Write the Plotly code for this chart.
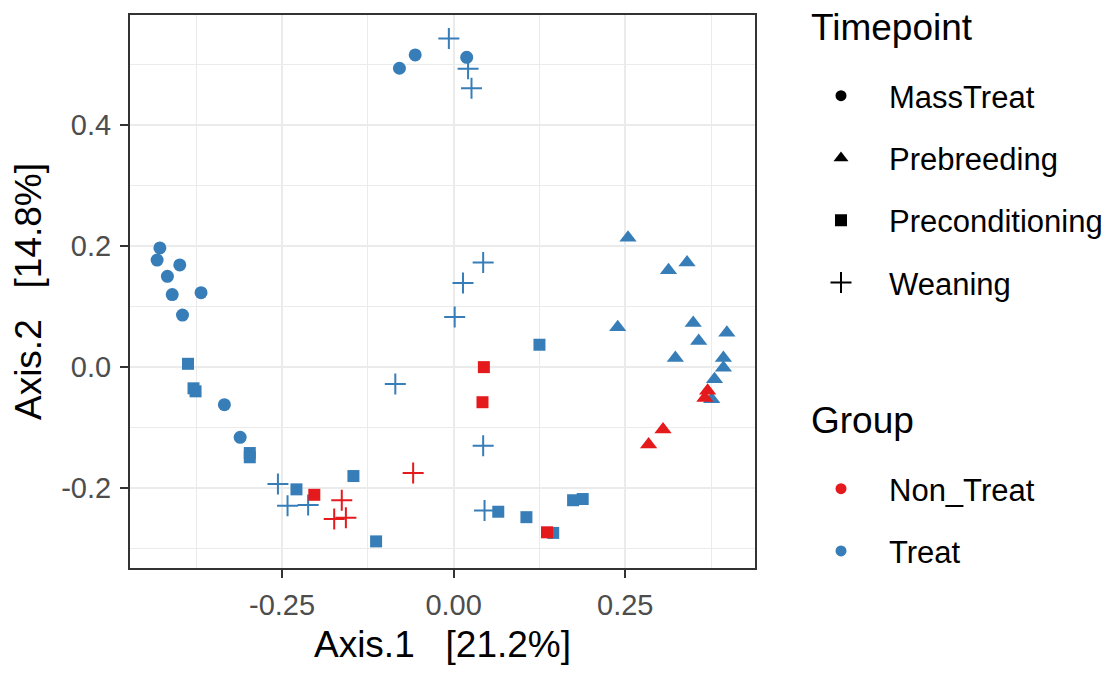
import plotly.graph_objects as go

# ---- data ----
mass_treat_x = [-0.079, -0.056, 0.019, -0.428, -0.432, -0.399, -0.417, -0.410, -0.368, -0.395, -0.334, -0.311]
mass_treat_y = [0.493, 0.515, 0.511, 0.196, 0.176, 0.168, 0.149, 0.119, 0.122, 0.085, -0.063, -0.117]

preb_treat_x = [0.254, 0.313, 0.340, 0.239, 0.349, 0.357, 0.323, 0.398, 0.393, 0.393, 0.380, 0.376]
preb_treat_y = [0.213, 0.159, 0.172, 0.065, 0.072, 0.042, 0.014, 0.056, 0.014, -0.002, -0.021, -0.054]
preb_non_x = [0.370, 0.366, 0.305, 0.284]
preb_non_y = [-0.040, -0.052, -0.104, -0.129]

precond_treat_x = [-0.387, -0.379, -0.376, -0.297, -0.297, -0.229, -0.146, -0.113, 0.125, 0.065, 0.106, 0.145, 0.174, 0.188]
precond_treat_y = [0.0045, -0.036, -0.041, -0.143, -0.150, -0.203, -0.181, -0.289, 0.036, -0.240, -0.249, -0.275, -0.221, -0.219]
precond_non_x = [-0.203, 0.044, 0.042, 0.136]
precond_non_y = [-0.212, -0.001, -0.059, -0.274]

wean_treat_x = [-0.007, 0.021, 0.026, 0.043, 0.0136, 0.0015, -0.085, 0.043, 0.045, -0.256, -0.242, -0.212]
wean_treat_y = [0.542, 0.492, 0.460, 0.172, 0.138, 0.082, -0.029, -0.131, -0.238, -0.194, -0.230, -0.229]
wean_non_x = [-0.163, -0.174, -0.157, -0.059]
wean_non_y = [-0.221, -0.252, -0.250, -0.176]

timepoints = ["MassTreat", "Prebreeding", "Preconditioning", "Weaning"]
groups = ["Non_Treat", "Treat"]

x_tickvals = [-0.25, 0.0, 0.25]
x_ticktext = ["-0.25", "0.00", "0.25"]
y_tickvals = [0.4, 0.2, 0.0, -0.2]
y_ticktext = ["0.4", "0.2", "0.0", "-0.2"]
x_minor = [-0.375, -0.125, 0.125, 0.375]
y_minor = [0.5, 0.3, 0.1, -0.1, -0.3]

RED = "#E41A1C"
BLUE = "#377EB8"
FONT = "Liberation Sans, Arial, sans-serif"

sym = {"MassTreat": "circle", "Prebreeding": "triangle-up",
       "Preconditioning": "square", "Weaning": "cross-thin"}
msize = {"MassTreat": 13, "Prebreeding": 15, "Preconditioning": 12, "Weaning": 15}


def marker(tp, color):
    m = dict(symbol=sym[tp], size=msize[tp], color=color)
    if tp == "Weaning":
        m["line"] = dict(color=color, width=2)
    else:
        m["line"] = dict(width=0)
    return m


fig = go.Figure()

series = [
    ("MassTreat", BLUE, mass_treat_x, mass_treat_y),
    ("Prebreeding", BLUE, preb_treat_x, preb_treat_y),
    ("Preconditioning", BLUE, precond_treat_x, precond_treat_y),
    ("Weaning", BLUE, wean_treat_x, wean_treat_y),
    ("Prebreeding", RED, preb_non_x, preb_non_y),
    ("Preconditioning", RED, precond_non_x, precond_non_y),
    ("Weaning", RED, wean_non_x, wean_non_y),
]
for tp, col, xs, ys in series:
    fig.add_trace(go.Scatter(x=xs, y=ys, mode="markers", marker=marker(tp, col),
                             showlegend=False, hoverinfo="x+y"))

# legend entries: Timepoint (shape)
for tp in timepoints:
    m = marker(tp, "black")
    m["size"] = {"MassTreat": 11, "Prebreeding": 13, "Preconditioning": 12, "Weaning": 15}[tp]
    fig.add_trace(go.Scatter(x=[None], y=[None], mode="markers", marker=m, name=tp,
                             legend="legend", legendgroup="tp_" + tp))
# legend entries: Group (colour)
for g, col in zip(groups, [RED, BLUE]):
    fig.add_trace(go.Scatter(x=[None], y=[None], mode="markers",
                             marker=dict(symbol="circle", size=11, color=col, line=dict(width=0)),
                             name=g, legend="legend2", legendgroup="g_" + g))

axis_common = dict(
    showline=True, mirror=True, linecolor="#333333", linewidth=2,
    ticks="outside", ticklen=8, tickwidth=1.6, tickcolor="#333333",
    showgrid=True, gridcolor="#EBEBEB", gridwidth=1.6, zeroline=False,
    tickfont=dict(family=FONT, size=29, color="#4D4D4D"),
)

PL, PR, PT, PB = 130, 755, 15, 568


def px_x(px):
    return (px - PL) / (PR - PL)


def px_y(py):
    return (PB - py) / (PB - PT)


legend_common = dict(xref="container", yref="container", xanchor="left", yanchor="top",
                     bgcolor="rgba(0,0,0,0)",
                     font=dict(family=FONT, size=31, color="black"),
                     itemwidth=86, tracegroupgap=19, itemclick=False, itemdoubleclick=False)

fig.update_layout(
    width=1120, height=675,
    margin=dict(l=PL, r=1120 - PR, t=PT, b=675 - PB),
    paper_bgcolor="white", plot_bgcolor="white",
    font=dict(family=FONT, color="black"),
    xaxis=dict(range=[-0.4715, 0.439], tickvals=x_tickvals, ticktext=x_ticktext,
               ticklabelstandoff=2,
               minor=dict(tickvals=x_minor, showgrid=True, gridcolor="#EBEBEB", gridwidth=1, ticks=""),
               title=dict(text="Axis.1   [21.2%]", font=dict(family=FONT, size=37, color="black"), standoff=11),
               **axis_common),
    yaxis=dict(range=[-0.333, 0.581], tickvals=y_tickvals, ticktext=y_ticktext,
               ticklabelstandoff=3,
               minor=dict(tickvals=y_minor, showgrid=True, gridcolor="#EBEBEB", gridwidth=1, ticks=""),
               title=dict(text="Axis.2   [14.8%]", font=dict(family=FONT, size=37, color="black"), standoff=8),
               **axis_common),
    legend=dict(x=793 / 1120, y=1 - 69 / 675, **legend_common),
    legend2=dict(x=793 / 1120, y=1 - 462 / 675, **legend_common),
    annotations=[
        dict(text="Timepoint", xref="paper", yref="paper", x=px_x(809), y=px_y(27),
             xanchor="left", yanchor="middle", showarrow=False,
             font=dict(family=FONT, size=37, color="black")),
        dict(text="Group", xref="paper", yref="paper", x=px_x(809), y=px_y(420),
             xanchor="left", yanchor="middle", showarrow=False,
             font=dict(family=FONT, size=37, color="black")),
    ],
)

fig.write_html("out.html")
